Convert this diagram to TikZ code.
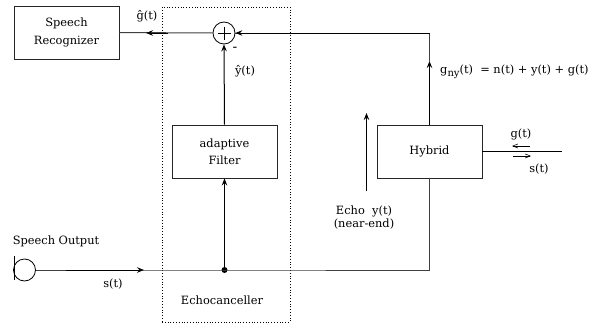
\documentclass[tikz,border=0pt]{standalone}
\usepackage{fontspec}
\setmainfont{DejaVu Serif}
\usetikzlibrary{arrows.meta}
\tikzset{
  x=1pt,y=-1pt,
  box/.style={draw,line width=0.9pt,draw=black!85,minimum width=105pt,minimum height=53pt,inner sep=0pt,align=center,font=\fontsize{11.4}{18}\selectfont},
  lbl/.style={inner sep=0pt,align=center,font=\fontsize{11.4}{13}\selectfont},
  wire/.style={line width=1pt,draw=black!75},
  arr/.style={line width=1pt,draw=black,-{Stealth[length=7pt,width=5.5pt,inset=2.5pt]}},
  thinarr/.style={line width=0.6pt,-{Straight Barb[length=5pt,width=4pt]}},
}
\begin{document}
\begin{tikzpicture}
\useasboundingbox (0,0) rectangle (595,324);
\node[box] (rec) at (66.5,32.5) {\raisebox{-1pt}{Speech}\\\raisebox{-1pt}{Recognizer}};
\node[box] (filt) at (224.5,151.5) {\raisebox{-1pt}{adaptive}\\Filter};
\node[box] (hyb) at (429.5,151.5) {\raisebox{-1.5pt}{Hybrid}};
\node[draw,circle,line width=0.8pt,minimum size=22pt,inner sep=0pt] (sum) at (224,33) {};
\coordinate (pl) at (217.5,33); \coordinate (pr) at (230.5,33);
\coordinate (pt) at (224,26.5); \coordinate (pb) at (224,39.5);
\draw[line width=0.7pt] (pl)--(pr) (pt)--(pb);
\node[draw,dotted,line width=0.8pt,minimum width=128pt,minimum height=315pt,inner sep=0pt] (ec) at (226,164.5) {};
\node[draw,circle,line width=0.8pt,minimum size=22pt,inner sep=0pt] (spk) at (24.5,270) {};
\coordinate (spkT) at (14,256); \coordinate (spkB) at (14,280);
\draw[line width=0.8pt] (spkT)--(spkB);
\node[circle,fill=black,minimum size=6pt,inner sep=0pt] (dot) at (224.5,270) {};
\coordinate (hb) at (429.5,270);
\coordinate (ht) at (429.5,33);
\coordinate (st) at (144,270);
\coordinate (ss) at (66,270);
\coordinate (gmid) at (146,33);
\coordinate (gmidb) at (168,33);
\coordinate (gny) at (429.5,61);
\coordinate (hr) at (562,151);
\draw[wire] (spk.east)--(dot.center)--(hb)--(hyb.south);
\draw[arr] (ss)--(st);
\draw[arr] (hyb.north)--(gny);
\draw[wire] (gny)--(ht)--(sum.east);
\draw[arr] (ht)--(sum.east);
\draw[wire] (sum.west)--(rec.east);
\draw[arr] (gmidb)--(gmid);
\draw[arr] (filt.north)--(sum.south);
\draw[arr] (dot.center)--(filt.south);
\draw[line width=0.8pt] (hyb.east|-hr)--(hr);
\coordinate (ga) at (530,146); \coordinate (gb) at (512,146);
\coordinate (sa) at (513,156); \coordinate (sb) at (531,156);
\coordinate (ea) at (366.5,191); \coordinate (eb) at (366.5,113);
\draw[thinarr] (ga)--(gb);
\draw[thinarr] (sa)--(sb);
\draw[arr,line width=0.7pt] (ea)--(eb);
\node[lbl] (l1) at (147,16) {ĝ(t)};
\node[lbl] (l2) at (245,71) {ŷ(t)};
\node[lbl,font=\fontsize{14}{14}\selectfont] (l3) at (235,49) {-};
\node[lbl,anchor=west] (l4) at (440,72) {g\raisebox{-3.5pt}{\fontsize{10}{10}\selectfont ny}(t)\ \ = n(t) + y(t) + g(t)};
\node[lbl] (l5) at (521,134) {g(t)};
\node[lbl] (l6) at (539,169) {s(t)};
\node[lbl] (l7) at (364,217.5) {Echo\ \ y(t)\\(near-end)};
\node[lbl] (l8) at (56,241) {Speech Output};
\node[lbl] (l9) at (113,284) {s(t)};
\node[lbl] (l10) at (222,300) {Echocanceller};
\end{tikzpicture}
\end{document}
